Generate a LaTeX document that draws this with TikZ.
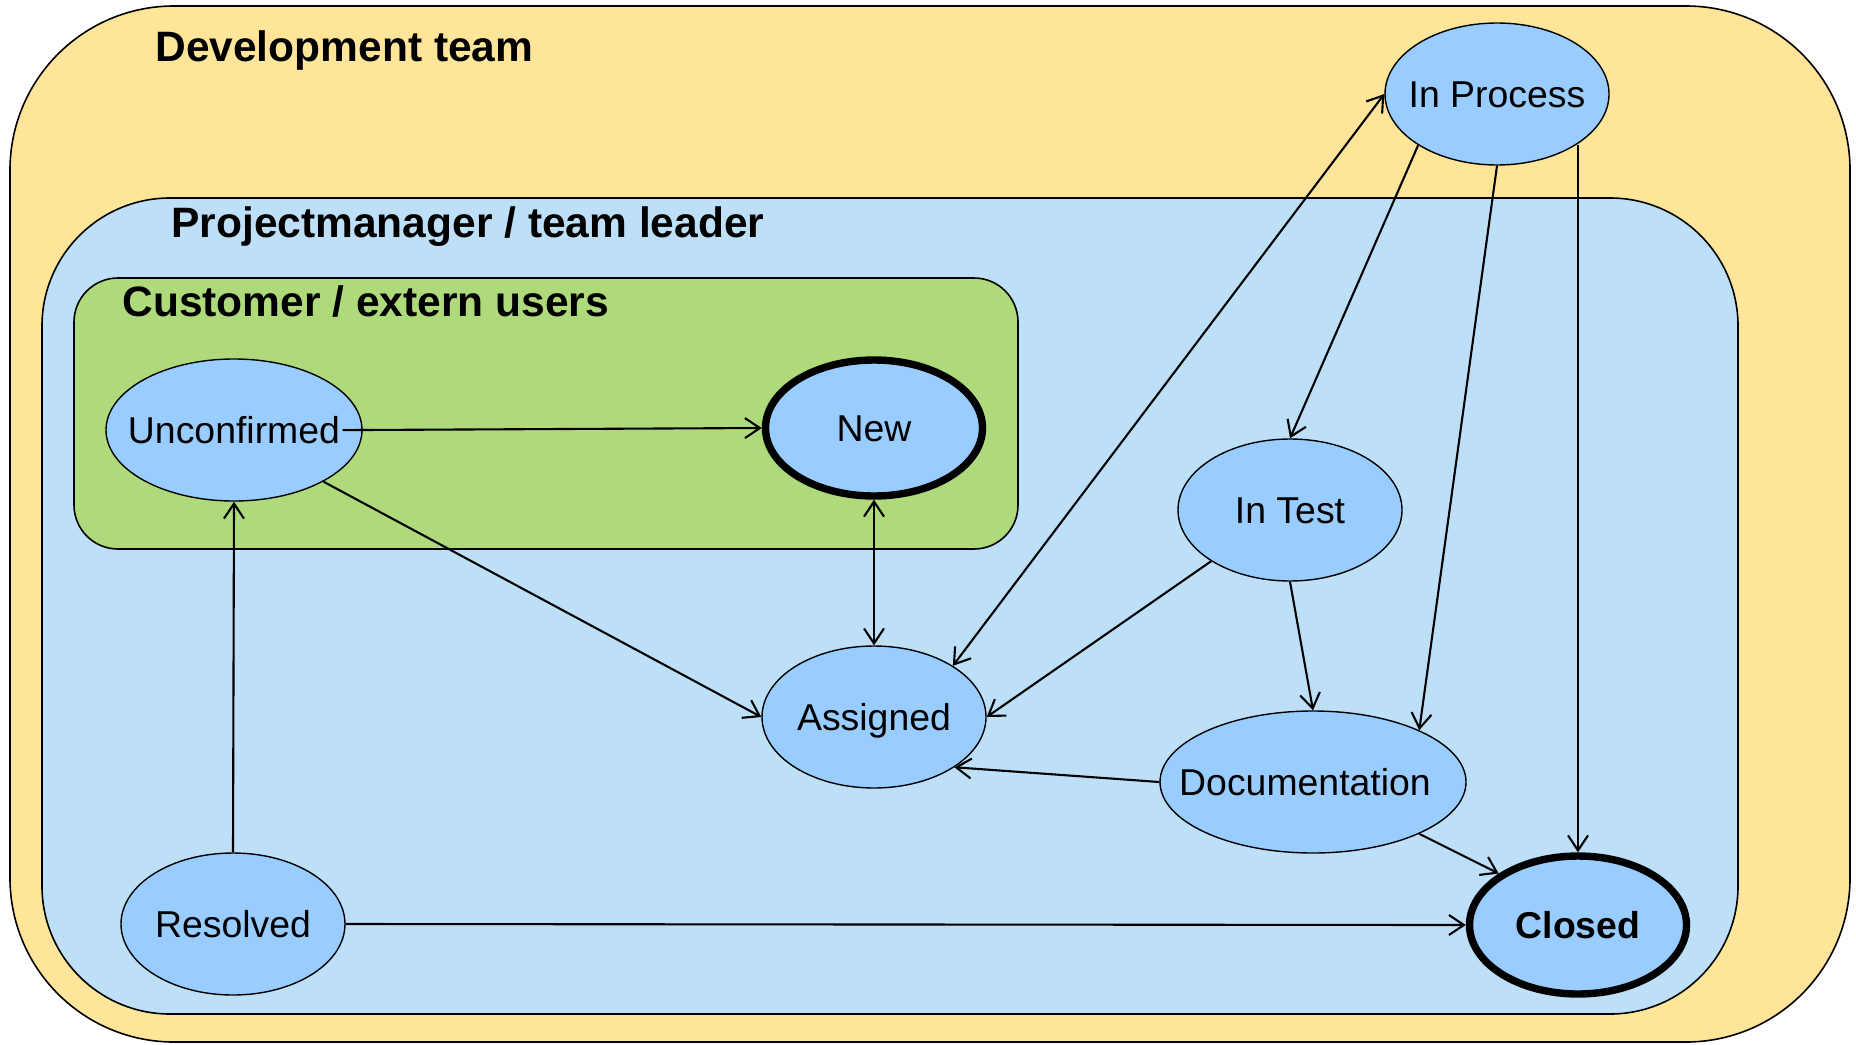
\documentclass[tikz,border=0pt]{standalone}
\usepackage{fontspec}
\setmainfont{Liberation Sans}
\usetikzlibrary{shapes.geometric,arrows.meta}
\definecolor{devyellow}{RGB}{255,229,153}
\definecolor{pmblue}{RGB}{189,224,248}
\definecolor{custgreen}{RGB}{175,218,124}
\definecolor{statefill}{RGB}{153,204,255}
\newcommand\zlbl[1]{\makebox[0pt][c]{#1}}
\tikzset{
  group/.style={draw=black, line width=0.8pt},
  grouptitle/.style={anchor=base west, inner sep=0pt, font=\fontsize{21.25pt}{24pt}\selectfont\bfseries},
  state/.style={ellipse, draw=black, line width=0.7pt, fill=statefill, inner sep=0pt,
    text height=13.4pt, text depth=0pt,
    minimum width=112pt, minimum height=71pt, font=\fontsize{18.7pt}{22pt}\selectfont},
  finalstate/.style={state, line width=3.7pt},
  conn/.style={draw=black, line width=1.05pt, -{Straight Barb[length=7.5pt,width=10pt,line width=1.05pt]}},
  conn2/.style={conn, {Straight Barb[length=7.5pt,width=10pt,line width=1.05pt]}-{Straight Barb[length=7.5pt,width=10pt,line width=1.05pt]}}
}
\begin{document}
\begin{tikzpicture}[x=0.5pt,y=-0.5pt]
\useasboundingbox (0,0) rectangle (1856,1044);
% containers
\path[group, fill=devyellow, rounded corners=82pt] (10,6) rectangle (1850,1042);
\path[group, fill=pmblue, rounded corners=64pt] (42,198) rectangle (1738,1014);
\path[group, fill=custgreen, rounded corners=22pt] (74,278) rectangle (1018,549);
\node[grouptitle] (tdev) at (155,61) {Development team};
\node[grouptitle] (tpm) at (171,237) {Projectmanager / team leader};
\node[grouptitle] (tcust) at (122,316) {Customer / extern users};
% states
\node[state, minimum width=128pt] (unc) at (234,430) {\zlbl{Unconfirmed}};
\node[finalstate, minimum width=108.5pt, minimum height=68pt] (new) at (874,428) {\zlbl{New}};
\node[state] (asg) at (874,717) {\zlbl{Assigned}};
\node[state] (inproc) at (1497,94) {\zlbl{In Process}};
\node[state] (intest) at (1290,510) {\zlbl{In Test}};
\node[state, minimum width=153pt] (doc) at (1313,782) {\zlbl{\hspace*{-8pt}Documentation}};
\node[state] (res) at (233,924) {\zlbl{Resolved}};
\node[finalstate, minimum width=108.5pt, minimum height=69pt] (closed) at (1578,925) {\zlbl{\bfseries Closed}};
% connectors
\draw[conn, shorten <=-10pt] (unc.east) -- (new.west);
\draw[conn] (unc.-30) -- (asg.west);
\draw[conn2] (new.south) -- (asg.north);
\draw[conn] (res.north) -- (unc.south);
\draw[conn] (res.east) -- (closed.west);
\draw[conn2] (inproc.west) -- (asg.33);
\draw[conn] (inproc.213) -- (intest.north);
\draw[conn] (inproc.south) -- (doc.26);
\draw[conn] (closed.north |- inproc.-33) -- (closed.north);
\draw[conn] (intest.213) -- (asg.east);
\draw[conn] (intest.south) -- (doc.north);
\draw[conn] (doc.west) -- (asg.-32);
\draw[conn] (doc.-26) -- (closed.147);
\end{tikzpicture}
\end{document}
